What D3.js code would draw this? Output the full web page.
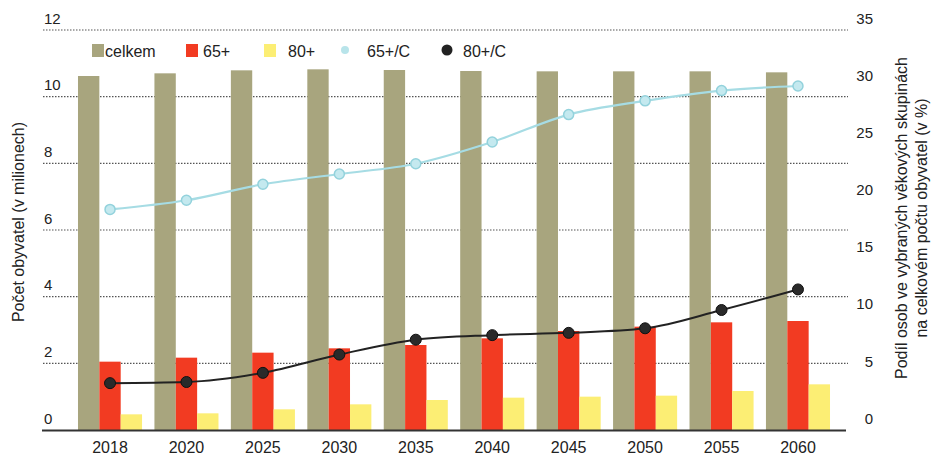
<!DOCTYPE html>
<html><head><meta charset="utf-8">
<script src="https://cdn.jsdelivr.net/npm/d3@7"></script>
<style>body{margin:0;background:#fff}svg{display:block}text{font-family:"Liberation Sans",Arial,sans-serif;fill:#222}</style>
</head><body><svg id="c" width="933" height="457"></svg>
<script>
const years = ["2018","2020","2025","2030","2035","2040","2045","2050","2055","2060"];
const celkem = [10.62,10.70,10.79,10.82,10.80,10.77,10.76,10.76,10.76,10.73];
const p65 = [2.05,2.17,2.32,2.45,2.55,2.75,2.97,3.10,3.23,3.27];
const p80 = [0.47,0.50,0.62,0.77,0.90,0.97,1.00,1.03,1.17,1.37];
const share65 = [19.3,20.1,21.5,22.4,23.3,25.2,27.6,28.8,29.7,30.1];
const share80 = [4.1,4.2,5.0,6.6,7.9,8.3,8.5,8.9,10.5,12.3];
const leftTicks = [0,2,4,6,8,10,12];
const rightTicks = [0,5,10,15,20,25,30,35];
const barSeries = ["celkem","65+","80+"];
const colors = {"celkem":"#a8a57e","65+":"#f23b22","80+":"#fcee74","65+/C":"#a6dce4","80+/C":"#222"};

const svg = d3.select("#c");
const yL = d3.scaleLinear().domain([0,12]).range([430,30]);
const yR = d3.scaleLinear().domain([0,35]).range([430,30]);
const x = d3.scaleBand().domain(years).range([71.8,836.2]).paddingInner(0.162).paddingOuter(0.081);
const xs = d3.scaleBand().domain(barSeries).range([0,x.bandwidth()]);
const cx = d => x(d) + xs("65+") + xs.bandwidth()/2;

// gridlines
svg.append("g").selectAll("line").data(leftTicks.filter(t=>t>0)).join("line")
  .attr("x1",43).attr("x2",848).attr("y1",d=>yL(d)).attr("y2",d=>yL(d))
  .attr("stroke","#555").attr("stroke-width",1.2).attr("stroke-dasharray","1.5,1.5");

// left axis labels
const axL = d3.axisLeft(yL).tickValues(leftTicks).tickSize(0);
const gL = svg.append("g").attr("transform","translate(44,0)").call(axL);
gL.select(".domain").remove();
gL.selectAll("text").attr("text-anchor","start").attr("x",0).attr("dy","-0.45em")
  .style("font-size","15px").style("font-family","Liberation Sans, Arial, sans-serif").attr("fill","#222");

// right axis labels
const axR = d3.axisRight(yR).tickValues(rightTicks).tickSize(0);
const gR = svg.append("g").attr("transform","translate(873,0)").call(axR);
gR.select(".domain").remove();
gR.selectAll("text").attr("text-anchor","end").attr("x",0).attr("dy","-0.45em")
  .style("font-size","15px").style("font-family","Liberation Sans, Arial, sans-serif").attr("fill","#222");

// bars
const rows = years.map((y,i)=>({year:y, vals:[["celkem",celkem[i]],["65+",p65[i]],["80+",p80[i]]]}));
const g = svg.append("g").selectAll("g").data(rows).join("g").attr("transform",d=>`translate(${x(d.year)},0)`);
g.selectAll("rect").data(d=>d.vals).join("rect")
  .attr("x",d=>xs(d[0])).attr("width",xs.bandwidth())
  .attr("y",d=>yL(d[1])).attr("height",d=>yL(0)-yL(d[1]))
  .attr("fill",d=>colors[d[0]]);

// baseline
svg.append("line").attr("x1",42).attr("x2",846).attr("y1",430.5).attr("y2",430.5).attr("stroke","#333").attr("stroke-width",1.8);

// x axis labels
const axX = d3.axisBottom(x).tickSize(0);
const gX = svg.append("g").attr("transform","translate(0,430)").call(axX);
gX.select(".domain").remove();
gX.selectAll(".tick").attr("transform",d=>`translate(${cx(d)},0)`);
gX.selectAll("text").attr("y",12).attr("dy","0.71em").style("font-size","16px")
  .style("font-family","Liberation Sans, Arial, sans-serif").attr("fill","#222");

// lines
const line = arr => d3.line().x((d,i)=>cx(years[i])).y(d=>yR(d)).curve(d3.curveMonotoneX)(arr);
svg.append("path").attr("d",line(share65)).attr("fill","none").attr("stroke","#a6dce4").attr("stroke-width",2.2);
svg.append("g").selectAll("circle").data(share65).join("circle")
  .attr("cx",(d,i)=>cx(years[i])).attr("cy",d=>yR(d)).attr("r",5)
  .attr("fill","#c4e9ef").attr("stroke","#93d2dc").attr("stroke-width",1.5);
svg.append("path").attr("d",line(share80)).attr("fill","none").attr("stroke","#222").attr("stroke-width",2);
svg.append("g").selectAll("circle").data(share80).join("circle")
  .attr("cx",(d,i)=>cx(years[i])).attr("cy",d=>yR(d)).attr("r",5.5)
  .attr("fill","#2a2a2a").attr("stroke","#111").attr("stroke-width",1);

// legend
const leg = svg.append("g").style("font-size","16px");
const legItems = [
  {k:"celkem", type:"rect", mx:92, tx:105},
  {k:"65+", type:"rect", mx:186, tx:203},
  {k:"80+", type:"rect", mx:264, tx:288},
  {k:"65+/C", type:"circle", mx:345, tx:367},
  {k:"80+/C", type:"circle", mx:447, tx:463}
];
legItems.forEach(it=>{
  if(it.type==="rect") leg.append("rect").attr("x",it.mx).attr("y",44).attr("width",12).attr("height",13).attr("fill",colors[it.k]);
  else leg.append("circle").attr("cx",it.mx).attr("cy",50).attr("r",it.k==="65+/C"?4:5.5).attr("fill",it.k==="65+/C"?"#b8e4ea":"#222");
  leg.append("text").attr("x",it.tx).attr("y",51).attr("dy","0.35em").text(it.k);
});

// axis titles
svg.append("text").attr("transform","translate(18,222) rotate(-90)").attr("text-anchor","middle")
  .attr("dy","0.35em").style("font-size","16px").text("Počet obyvatel (v milionech)");
svg.append("text").attr("transform","translate(901,218) rotate(-90)").attr("text-anchor","middle")
  .attr("dy","0.35em").style("font-size","16px").text("Podíl osob ve vybraných věkových skupinách");
svg.append("text").attr("transform","translate(921,218) rotate(-90)").attr("text-anchor","middle")
  .attr("dy","0.35em").style("font-size","16px").text("na celkovém počtu obyvatel (v %)");
</script></body></html>
